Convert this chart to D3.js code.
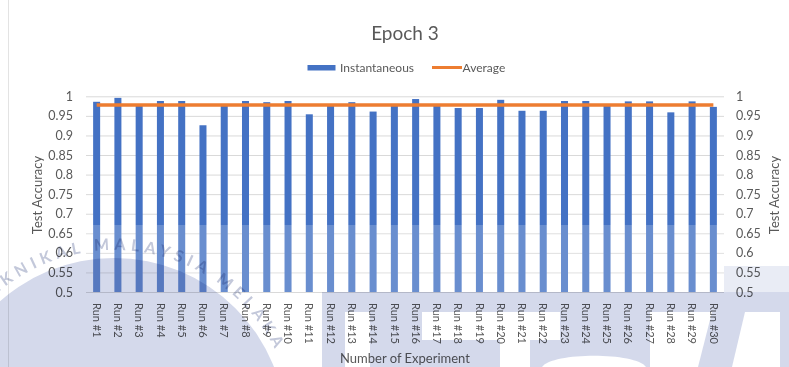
<!DOCTYPE html>
<html>
<head>
<meta charset="utf-8">
<script src="https://cdn.jsdelivr.net/npm/d3@7"></script>
<style>
  html, body { margin: 0; padding: 0; background: #fff; }
  svg { display: block; }
  text { font-family: Lato, "Open Sans", sans-serif; fill: #595959; }
</style>
</head>
<body>
<svg id="chart" width="789" height="367"></svg>
<script>
// Test accuracy per run, epoch 3
const runs = ["Run #1","Run #2","Run #3","Run #4","Run #5","Run #6","Run #7","Run #8","Run #9","Run #10",
              "Run #11","Run #12","Run #13","Run #14","Run #15","Run #16","Run #17","Run #18","Run #19","Run #20",
              "Run #21","Run #22","Run #23","Run #24","Run #25","Run #26","Run #27","Run #28","Run #29","Run #30"];
const instantaneous = [0.986,0.996,0.977,0.988,0.988,0.926,0.977,0.988,0.985,0.988,
                       0.954,0.976,0.985,0.961,0.976,0.993,0.976,0.970,0.970,0.991,
                       0.963,0.963,0.988,0.988,0.976,0.987,0.987,0.959,0.987,0.973];
const averageAccuracy = 0.978;
const yTicks = [0.5,0.55,0.6,0.65,0.7,0.75,0.8,0.85,0.9,0.95,1];
const yTickLabels = ["0.5","0.55","0.6","0.65","0.7","0.75","0.8","0.85","0.9","0.95","1"];

const BLUE = "#4472C4", ORANGE = "#ED7D31", GRID = "#d9d9d9";
const plot = { left: 86, right: 724, top: 96.3, bottom: 292 };

const svg = d3.select("#chart");

const x = d3.scaleBand().domain(runs).range([plot.left, plot.right])
  .paddingInner(0.67).paddingOuter(0.335);
const y = d3.scaleLinear().domain([0.5, 1]).range([plot.bottom, plot.top]);

// chart area edge
svg.append("line").attr("x1", 8.5).attr("x2", 8.5).attr("y1", 0).attr("y2", 367)
  .attr("stroke", "#e3e3e3");

// title
svg.append("text").attr("x", 405).attr("y", 40).attr("text-anchor", "middle")
  .style("font-size", "19px").text("Epoch 3");

// legend
const lg = svg.append("g");
lg.append("rect").attr("x", 307.5).attr("y", 65).attr("width", 28).attr("height", 5.5).attr("fill", BLUE);
lg.append("text").attr("x", 340).attr("y", 67.5).attr("dy", "0.35em").style("font-size", "12px").text("Instantaneous");
lg.append("line").attr("x1", 432).attr("x2", 462).attr("y1", 67.5).attr("y2", 67.5)
  .attr("stroke", ORANGE).attr("stroke-width", 3);
lg.append("text").attr("x", 462.5).attr("y", 67.5).attr("dy", "0.35em").style("font-size", "12px").text("Average");

// gridlines
const grid = svg.append("g").attr("transform", `translate(${plot.left},0)`)
  .call(d3.axisLeft(y).tickValues(yTicks).tickSize(-(plot.right - plot.left)).tickFormat(""));
grid.select(".domain").remove();
grid.selectAll(".tick line").attr("stroke", GRID);

// left axis labels
const yl = svg.append("g").attr("transform", `translate(${plot.left},0)`)
  .call(d3.axisLeft(y).tickValues(yTicks).tickSize(0).tickPadding(13)
    .tickFormat((d, i) => yTickLabels[i]));
yl.select(".domain").remove();
yl.selectAll("text").style("font-size", "12.5px").attr("fill", "#595959").style("font-family", "Lato, sans-serif");

// right axis labels
const yr = svg.append("g").attr("transform", `translate(${plot.right},0)`)
  .call(d3.axisRight(y).tickValues(yTicks).tickSize(0).tickPadding(12)
    .tickFormat((d, i) => yTickLabels[i]));
yr.select(".domain").remove();
yr.selectAll("text").style("font-size", "12.5px").attr("fill", "#595959").style("font-family", "Lato, sans-serif");

// axis titles
svg.append("text").attr("transform", "translate(42,195) rotate(-90)").attr("text-anchor", "middle")
  .style("font-size", "13px").text("Test Accuracy");
svg.append("text").attr("transform", "translate(779,195) rotate(-90)").attr("text-anchor", "middle")
  .style("font-size", "13px").text("Test Accuracy");
svg.append("text").attr("x", 405).attr("y", 363).attr("text-anchor", "middle")
  .style("font-size", "13px").text("Number of Experiment");

// bars
svg.append("g").selectAll("rect").data(instantaneous).join("rect")
  .attr("x", (d, i) => x(runs[i]))
  .attr("width", x.bandwidth())
  .attr("y", d => y(d))
  .attr("height", d => y(0.5) - y(d))
  .attr("fill", BLUE);

// x axis
const xa = svg.append("g").attr("transform", `translate(0,${plot.bottom})`)
  .call(d3.axisBottom(x).tickSize(0));
xa.select(".domain").attr("stroke", GRID).attr("d", `M${plot.left},0.5H${plot.right}`);
xa.selectAll("text")
  .attr("transform", "rotate(90)")
  .attr("x", 11).attr("y", 0).attr("dy", "0.35em")
  .attr("text-anchor", "start")
  .attr("fill", "#595959")
  .style("font-size", "11px").style("font-family", "Lato, sans-serif");

// average line
const line = d3.line().x(d => x(d) + x.bandwidth() / 2).y(() => y(averageAccuracy));
svg.append("path").datum(runs).attr("d", line)
  .attr("fill", "none").attr("stroke", ORANGE).attr("stroke-width", 3.5);

// faded lower band over the bars
svg.append("rect").attr("x", plot.left).attr("y", 225).attr("width", plot.right - plot.left)
  .attr("height", plot.bottom - 225).attr("fill", "#fff").attr("opacity", 0.2);

// background seal
const defs = svg.append("defs");
const mask = defs.append("mask").attr("id", "sealMask");
mask.append("rect").attr("width", 789).attr("height", 367).attr("fill", "#fff");
const holes = [
  "M345,312H370V367H345Z",
  "M422,312H560V340H530V367H500V340H422Z",
  "M542,367C552,352 636,352 646,367Z",
  "M650,312H712L698,367H650Z",
  "M745,312H780V367H732Z"
];
holes.forEach(p => mask.append("path").attr("d", p).attr("fill", "#000"));

const seal = svg.append("g").style("mix-blend-mode", "multiply");
const wm = seal.append("g").attr("mask", "url(#sealMask)").attr("fill", "#d4d9eb");
wm.append("circle").attr("cx", 114).attr("cy", 430).attr("r", 172);
wm.append("rect").attr("x", 322).attr("y", 292).attr("width", 467).attr("height", 75);
wm.append("rect").attr("x", 724).attr("y", 266).attr("width", 65).attr("height", 26).attr("opacity", 0.5);

const arcId = "sealArc";
defs.append("path").attr("id", arcId)
  .attr("d", "M114,610 A180,180 0 1,1 114.1,610");
seal.append("text").style("font-size", "16px").style("font-weight", "bold")
  .style("letter-spacing", "5px").style("fill", "#c3c8da")
  .append("textPath").attr("href", "#" + arcId).attr("startOffset", "68%")
  .attr("text-anchor", "end")
  .text("UNIVERSITI TEKNIKAL MALAYSIA MELAKA");
</script>
</body>
</html>
